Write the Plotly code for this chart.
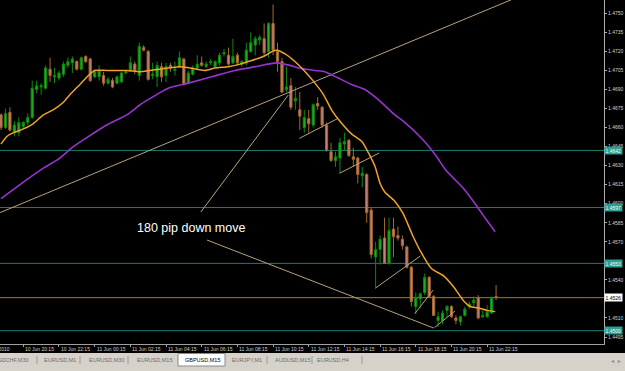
import plotly.graph_objects as go

# ---------------- data (GBPUSD M15) ----------------
bars = list(range(112))
opens = [1.4670,1.4660,1.4672,1.4656,1.4656,1.4661,1.4664,1.4668,1.4690,1.4692,
         1.4691,1.4706,1.4700,1.4699,1.4702,1.4709,1.4711,1.4712,1.4706,1.4716,
         1.4714,1.4700,1.4700,1.4701,1.4695,1.4697,1.4695,1.4696,1.4703,1.4705,
         1.4710,1.4701,1.4723,1.4720,1.4701,1.4700,1.4708,1.4701,1.4709,1.4705,
         1.4708,1.4714,1.4695,1.4702,1.4707,1.4711,1.4708,1.4711,1.4708,1.4711,
         1.4718,1.4717,1.4711,1.4717,1.4710,1.4711,1.4720,1.4725,1.4729,1.4730,
         1.4720,1.4742,1.4720,1.4712,1.4690,1.4693,1.4681,1.4674,1.4660,1.4667,
         1.4662,1.4679,1.4676,1.4662,1.4641,1.4634,1.4636,1.4647,1.4650,1.4637,
         1.4636,1.4622,1.4623,1.4595,1.4558,1.4564,1.4573,1.4553,1.4580,1.4575,
         1.4572,1.4566,1.4550,1.4519,1.4525,1.4530,1.4542,1.4527,1.4508,1.4508,
         1.4516,1.4519,1.4510,1.4507,1.4512,1.4519,1.4522,1.4526,1.4511,1.4511,
         1.4514,1.4527]
highs = [1.4671,1.4675,1.4676,1.4665,1.4668,1.4665,1.4671,1.4697,1.4697,1.4695,
         1.4709,1.4715,1.4707,1.4705,1.4712,1.4715,1.4716,1.4713,1.4716,1.4717,
         1.4715,1.4706,1.4709,1.4704,1.4700,1.4699,1.4701,1.4704,1.4705,1.4716,
         1.4712,1.4727,1.4725,1.4721,1.4711,1.4712,1.4711,1.4711,1.4711,1.4712,
         1.4720,1.4715,1.4705,1.4709,1.4717,1.4716,1.4712,1.4714,1.4713,1.4719,
         1.4722,1.4723,1.4730,1.4719,1.4713,1.4727,1.4735,1.4732,1.4733,1.4742,
         1.4743,1.4757,1.4727,1.4715,1.4708,1.4699,1.4692,1.4688,1.4674,1.4674,
         1.4679,1.4684,1.4677,1.4664,1.4648,1.4641,1.4652,1.4656,1.4651,1.4644,
         1.4637,1.4629,1.4624,1.4597,1.4570,1.4575,1.4589,1.4589,1.4589,1.4582,
         1.4575,1.4567,1.4551,1.4530,1.4530,1.4545,1.4543,1.4528,1.4515,1.4516,
         1.4520,1.4520,1.4512,1.4512,1.4519,1.4523,1.4527,1.4528,1.4516,1.4520,
         1.4527,1.4536]
lows = [1.4658,1.4659,1.4657,1.4653,1.4653,1.4659,1.4662,1.4667,1.4687,1.4686,
        1.4690,1.4696,1.4695,1.4697,1.4700,1.4707,1.4703,1.4705,1.4705,1.4711,
        1.4696,1.4699,1.4697,1.4693,1.4694,1.4691,1.4694,1.4695,1.4702,1.4704,
        1.4702,1.4697,1.4720,1.4697,1.4698,1.4692,1.4696,1.4696,1.4704,1.4701,
        1.4707,1.4693,1.4694,1.4701,1.4706,1.4708,1.4707,1.4709,1.4707,1.4709,
        1.4716,1.4709,1.4710,1.4709,1.4708,1.4709,1.4719,1.4717,1.4725,1.4717,
        1.4715,1.4717,1.4704,1.4687,1.4688,1.4674,1.4674,1.4658,1.4656,1.4656,
        1.4660,1.4674,1.4660,1.4641,1.4633,1.4629,1.4624,1.4642,1.4637,1.4629,
        1.4616,1.4613,1.4585,1.4557,1.4534,1.4552,1.4553,1.4552,1.4558,1.4571,
        1.4564,1.4549,1.4519,1.4513,1.4518,1.4528,1.4526,1.4512,1.4503,1.4505,
        1.4511,1.4510,1.4505,1.4504,1.4511,1.4517,1.4519,1.4509,1.4510,1.4510,
        1.4513,1.4524]
closes = [1.4660,1.4671,1.4658,1.4662,1.4664,1.4664,1.4668,1.4691,1.4693,1.4693,
          1.4707,1.4701,1.4701,1.4703,1.4710,1.4712,1.4714,1.4706,1.4715,1.4712,
          1.4697,1.4704,1.4705,1.4695,1.4698,1.4692,1.4700,1.4703,1.4704,1.4711,
          1.4705,1.4724,1.4721,1.4698,1.4702,1.4709,1.4700,1.4708,1.4707,1.4706,
          1.4715,1.4694,1.4703,1.4707,1.4710,1.4709,1.4710,1.4712,1.4712,1.4717,
          1.4719,1.4710,1.4716,1.4711,1.4712,1.4721,1.4727,1.4730,1.4731,1.4719,
          1.4742,1.4721,1.4712,1.4688,1.4692,1.4676,1.4683,1.4669,1.4668,1.4663,
          1.4678,1.4677,1.4662,1.4642,1.4634,1.4637,1.4648,1.4649,1.4638,1.4635,
          1.4623,1.4624,1.4593,1.4560,1.4564,1.4572,1.4553,1.4579,1.4574,1.4573,
          1.4567,1.4550,1.4523,1.4526,1.4529,1.4542,1.4527,1.4512,1.4511,1.4514,
          1.4519,1.4511,1.4508,1.4511,1.4517,1.4521,1.4524,1.4510,1.4512,1.4515,
          1.4526,1.4526]

# moving averages, read at sample bars
fast_ma_bars = [0,1.3,2.8,5,7.2,9.5,11.7,14,15.5,17.7,19.6,21,23.7,28.2,31.2,33.4,35.6,40.1,
                42.4,45.7,48,50.9,53.6,55.4,58.1,59.4,60.8,61.9,63.7,65.9,68.2,70.4,72.3,
                74.1,76,78.6,80.9,82.4,83.9,85,86.1,88.3,90.2,92.3,94.3,96.5,99.3,101.6,
                103.6,105.2,106.9,109,110.8]
fast_ma_vals = [1.4647,1.4653,1.4656,1.4659,1.4663,1.4670,1.4674,1.4680,1.4686,1.4694,
                1.4701,1.4705,1.4705,1.4705,1.4704,1.4705,1.4706,1.4708,1.4707,1.4705,
                1.4707,1.4708,1.4710,1.4712,1.4715,1.4717,1.4720,1.4721,1.4718,1.4712,
                1.4704,1.4695,1.4686,1.4674,1.4665,1.4655,1.4649,1.4640,1.4629,1.4616,
                1.4609,1.4602,1.4592,1.4575,1.4561,1.4549,1.4543,1.4534,1.4524,1.4519,
                1.4518,1.4516,1.4515]
slow_ma_bars = [0,5.8,9.5,13.2,16.2,19.2,23.7,28.2,31.2,33,34.9,37.5,42,47.2,52.5,57,61.8,
                64.8,66.7,70.4,72.6,75.6,78.6,81.6,84.6,88.3,90.2,94.7,97.7,99.6,103.7,
                106.7,108.9,110.8]
slow_ma_vals = [1.4604,1.4619,1.4628,1.4636,1.4645,1.4652,1.4662,1.4670,1.4678,1.4682,
                1.4686,1.4691,1.4695,1.4700,1.4705,1.4708,1.4711,1.4709,1.4707,1.4705,
                1.4704,1.4699,1.4694,1.4690,1.4682,1.4670,1.4665,1.4650,1.4637,1.4627,
                1.4612,1.4598,1.4587,1.4578]

# hand-drawn trend lines: (bar, price) pairs
trend_lines = [
    [(-0.2, 1.4593), (114.6, 1.4761)],
    [(44.8, 1.45935), (64.4, 1.46856)],
    [(46.2, 1.45714), (97.0, 1.45021)],
    [(66.9, 1.46515), (75.6, 1.46673)],
    [(75.9, 1.4624), (84.8, 1.4640)],
    [(83.9, 1.45334), (94.0, 1.45588)],
    [(92.8, 1.45135), (96.9, 1.4532)],
    [(97.2, 1.45025), (101.8, 1.45155)],
]

teal_levels = [1.4642, 1.4597, 1.4553, 1.4500]
bid_level = 1.4526

price_ticks = [round(1.4495 + 0.0015 * k, 4) for k in range(18)]
hidden_ticks = [1.4525, 1.4555]   # covered by the line labels in the terminal
time_tick_bars = [5, 13, 21, 29, 37, 45, 53, 61, 69, 77, 85, 93, 101, 109]
time_tick_text = ["10 Jun 20:15", "10 Jun 22:15", "11 Jun 00:15", "11 Jun 02:15",
                  "11 Jun 04:15", "11 Jun 06:15", "11 Jun 08:15", "11 Jun 10:15",
                  "11 Jun 12:15", "11 Jun 14:15", "11 Jun 16:15", "11 Jun 18:15",
                  "11 Jun 20:15", "11 Jun 22:15"]
first_label_bar = -4.7
first_label_text = "10 Jun 2010"

note_text = "180 pip down move"
note_bar, note_price = 30.0, 1.4581

tab_names = ["USDCHF,M30", "EURUSD,M1", "EURUSD,M30", "EURUSD,M15",
             "GBPUSD,M15", "EURJPY,M1", "AUDUSD,M15", "EURUSD,H4"]
active_tab = "GBPUSD,M15"

# ---------------- layout geometry ----------------
W, H = 625, 371
PW, PH = 604, 344
XR = [-0.224, 135.2]
YR = [1.44895, 1.47605]

def paper_x(px):
    return px / PW

def paper_y(py):
    return (PH - py) / PH

FONT = "Liberation Sans, Arial, sans-serif"

fig = go.Figure()

fig.add_trace(go.Candlestick(
    x=bars, open=opens, high=highs, low=lows, close=closes,
    increasing=dict(line=dict(color="#0d8a0d", width=1), fillcolor="#22b022"),
    decreasing=dict(line=dict(color="#a8682c", width=1), fillcolor="#c58080"),
    whiskerwidth=0, showlegend=False, hoverinfo="skip"))

for ln in trend_lines:
    fig.add_trace(go.Scatter(x=[p[0] for p in ln], y=[p[1] for p in ln], mode="lines",
                             line=dict(color="#b9a27e", width=1), showlegend=False,
                             hoverinfo="skip"))

fig.add_trace(go.Scatter(x=slow_ma_bars, y=slow_ma_vals, mode="lines",
                         line=dict(color="#9933cc", width=1.6, shape="spline", smoothing=0.6),
                         showlegend=False, hoverinfo="skip"))
fig.add_trace(go.Scatter(x=fast_ma_bars, y=fast_ma_vals, mode="lines",
                         line=dict(color="#f0a22a", width=1.5, shape="spline", smoothing=0.6),
                         showlegend=False, hoverinfo="skip"))

shapes = []
for lv in teal_levels:
    shapes.append(dict(type="line", xref="paper", yref="y", x0=0, x1=1, y0=lv, y1=lv,
                       line=dict(color="#1d7d72", width=1), layer="below"))
shapes.append(dict(type="line", xref="paper", yref="y", x0=0, x1=1, y0=bid_level, y1=bid_level,
                   line=dict(color="#b07a18", width=1), layer="below"))

# tab bar
shapes.append(dict(type="rect", xref="paper", yref="paper", x0=paper_x(-2), x1=paper_x(W + 2),
                   y0=paper_y(H + 2), y1=paper_y(353), fillcolor="#d6d2ca", line=dict(width=0)))
shapes.append(dict(type="rect", xref="paper", yref="paper", x0=paper_x(178), x1=paper_x(225),
                   y0=paper_y(366), y1=paper_y(353.5), fillcolor="#ffffff",
                   line=dict(color="#8a8a8a", width=1)))
for sx in [37, 80, 128, 267, 312, 362]:
    shapes.append(dict(type="line", xref="paper", yref="paper", x0=paper_x(sx), x1=paper_x(sx),
                       y0=paper_y(364), y1=paper_y(356), line=dict(color="#9a9a9a", width=1)))

annotations = []
for lv in teal_levels:
    annotations.append(dict(xref="paper", yref="y", x=1, y=lv, xanchor="left", yanchor="middle",
                            text=f"{lv:.4f}", showarrow=False, bgcolor="#2f9e90", borderpad=0.5,
                            font=dict(family=FONT, size=5, color="#e8fff8")))
annotations.append(dict(xref="paper", yref="y", x=1, y=bid_level, xanchor="left", yanchor="middle",
                        text=f"{bid_level:.4f}", showarrow=False, bgcolor="#ffffff", borderpad=0.5,
                        font=dict(family=FONT, size=5, color="#000000")))

for b, t in zip(time_tick_bars, time_tick_text):
    annotations.append(dict(xref="x", yref="paper", x=b, y=0, yshift=-5, xanchor="left",
                            yanchor="middle", text=t, showarrow=False,
                            font=dict(family=FONT, size=5, color="#d0d0d0")))
annotations.append(dict(xref="paper", yref="paper",
                        x=(first_label_bar - XR[0]) / (XR[1] - XR[0]), y=0, yshift=-5,
                        xanchor="left", yanchor="middle", text=first_label_text, showarrow=False,
                        font=dict(family=FONT, size=5, color="#d0d0d0")))

annotations.append(dict(xref="x", yref="y", x=note_bar, y=note_price, xanchor="left",
                        yanchor="middle", text=note_text, showarrow=False,
                        font=dict(family=FONT, size=12.5, color="#ffffff")))

tab_left_px = [-8, 42, 87, 135, 183, 230, 273, 315]
for name, lx in zip(tab_names, tab_left_px):
    annotations.append(dict(xref="paper", yref="paper", x=paper_x(lx), y=paper_y(360),
                            xanchor="left", yanchor="middle", text=name, showarrow=False,
                            font=dict(family=FONT, size=5.5,
                                      color="#000000" if name == active_tab else "#6a6a6a")))
annotations.append(dict(xref="paper", yref="paper", x=paper_x(616), y=paper_y(360),
                        xanchor="center", yanchor="middle", text="◂  ▸", showarrow=False,
                        font=dict(family="DejaVu Sans", size=6, color="#8a8a8a")))

fig.update_layout(
    width=W, height=H,
    margin=dict(l=0, r=W - PW, t=0, b=H - PH, pad=0),
    paper_bgcolor="#000000", plot_bgcolor="#000000",
    shapes=shapes, annotations=annotations,
    xaxis=dict(range=XR, showgrid=False, zeroline=False, rangeslider=dict(visible=False),
               showline=True, linecolor="#a0a0a0", linewidth=1,
               ticks="outside", ticklen=2, tickcolor="#a0a0a0",
               tickvals=time_tick_bars, showticklabels=False),
    yaxis=dict(range=YR, side="right", showgrid=False, zeroline=False,
               showline=True, linecolor="#b0b0b0", linewidth=1,
               ticks="outside", ticklen=2, tickcolor="#b0b0b0",
               tickvals=price_ticks,
               ticktext=["" if v in hidden_ticks else f"{v:.4f}" for v in price_ticks],
               tickfont=dict(family=FONT, size=5, color="#d0d0d0")),
    showlegend=False,
)

fig.write_html("out.html")
